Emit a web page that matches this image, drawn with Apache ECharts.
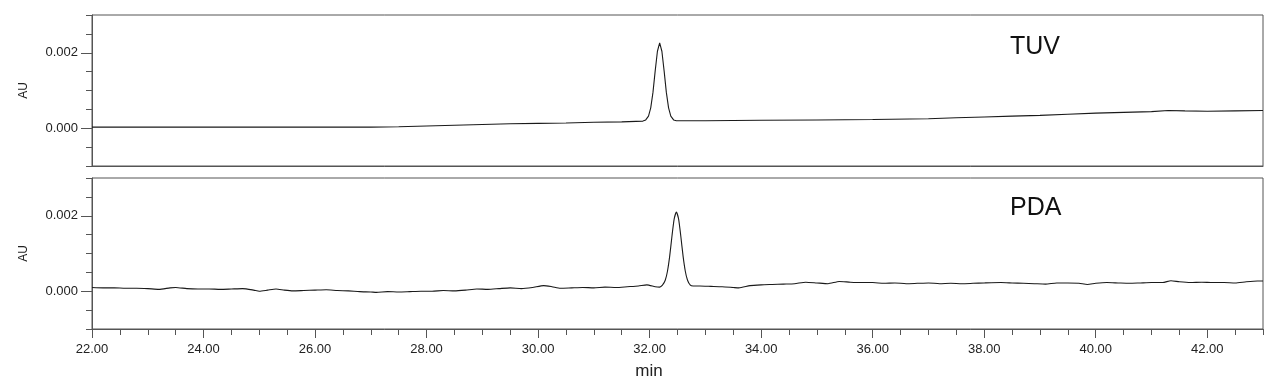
<!DOCTYPE html>
<html>
<head>
<meta charset="utf-8">
<script src="https://cdn.jsdelivr.net/npm/echarts@6.0.0/dist/echarts.min.js"></script>
<style>
html, body { margin: 0; padding: 0; background: #fff; }
#container { width: 1280px; height: 391px; }
</style>
</head>
<body>
<div id="container"></div>
<script>
// TUV trace (min, AU)
var tuvTime = [22.0, 23.0, 24.0, 25.0, 26.0, 27.0, 27.5, 28.0, 28.5, 29.0,
    29.5, 30.0, 30.5, 31.0, 31.5, 31.88, 31.93, 31.98, 32.02, 32.06,
    32.10, 32.14, 32.18, 32.22, 32.26, 32.30, 32.34, 32.38, 32.43, 32.48,
    33.0, 34.0, 35.0, 36.0, 37.0, 37.5, 38.0, 38.5, 39.0, 39.5,
    40.0, 40.5, 41.0, 41.3, 41.6, 42.0, 42.5, 43.0];
var tuvAU = [0.00003, 0.00003, 0.00003, 0.00003, 0.00003, 0.00003, 0.00004, 0.00006, 0.00008, 0.00010,
    0.00012, 0.00013, 0.00014, 0.00016, 0.00017, 0.00019, 0.00022, 0.00032, 0.00054, 0.00095,
    0.00152, 0.00204, 0.00226, 0.00204, 0.00152, 0.00095, 0.00054, 0.00032, 0.00022, 0.00020,
    0.00020, 0.00021, 0.00022, 0.00023, 0.00025, 0.00028, 0.00030, 0.00032, 0.00034, 0.00037,
    0.00040, 0.00042, 0.00044, 0.00047, 0.00046, 0.00045, 0.00046, 0.00047];

// PDA trace (min, AU)
var pdaTime = [22.0, 22.2, 22.4, 22.6, 22.8, 23.0, 23.2, 23.4, 23.5, 23.7,
    23.9, 24.1, 24.3, 24.5, 24.7, 24.9, 25.0, 25.15, 25.3, 25.45,
    25.6, 25.8, 26.0, 26.2, 26.4, 26.6, 26.8, 27.0, 27.1, 27.3,
    27.5, 27.7, 27.9, 28.1, 28.3, 28.5, 28.7, 28.9, 29.1, 29.3,
    29.5, 29.7, 29.9, 30.1, 30.25, 30.4, 30.6, 30.8, 31.0, 31.2,
    31.4, 31.6, 31.8, 31.95, 32.1, 32.18, 32.23, 32.28, 32.32, 32.36,
    32.40, 32.44, 32.48, 32.52, 32.56, 32.60, 32.64, 32.68, 32.73, 32.78,
    32.9, 33.1, 33.3, 33.5, 33.6, 33.8, 34.0, 34.2, 34.4, 34.6,
    34.8, 35.0, 35.2, 35.4, 35.6, 35.8, 36.0, 36.2, 36.4, 36.6,
    36.8, 37.0, 37.2, 37.4, 37.6, 37.8, 38.0, 38.3, 38.5, 38.7,
    38.9, 39.1, 39.3, 39.5, 39.7, 39.85, 40.0, 40.2, 40.4, 40.6,
    40.8, 41.0, 41.2, 41.35, 41.5, 41.7, 41.9, 42.1, 42.3, 42.5,
    42.7, 42.9, 43.0];
var pdaAU = [0.00010, 0.00009, 0.00009, 0.00008, 0.00008, 0.00007, 0.00005, 0.00009, 0.00010, 0.00007,
    0.00006, 0.00006, 0.00005, 0.00006, 0.00007, 0.00003, 0.00000, 0.00003, 0.00006, 0.00003,
    0.00001, 0.00002, 0.00003, 0.00004, 0.00002, 0.00001, -0.00001, -0.00002, -0.00003, -0.00001,
    -0.00002, -0.00001, 0.00000, 0.00000, 0.00002, 0.00001, 0.00003, 0.00006, 0.00005, 0.00007,
    0.00009, 0.00007, 0.00010, 0.00015, 0.00012, 0.00008, 0.00009, 0.00010, 0.00009, 0.00011,
    0.00010, 0.00012, 0.00014, 0.00017, 0.00012, 0.00011, 0.00016, 0.00029, 0.00053, 0.00093,
    0.00145, 0.00191, 0.00210, 0.00191, 0.00145, 0.00093, 0.00053, 0.00029, 0.00016, 0.00014,
    0.00014, 0.00013, 0.00012, 0.00010, 0.00009, 0.00015, 0.00017, 0.00018, 0.00019, 0.00020,
    0.00024, 0.00022, 0.00020, 0.00026, 0.00024, 0.00023, 0.00023, 0.00021, 0.00022, 0.00020,
    0.00021, 0.00022, 0.00020, 0.00021, 0.00020, 0.00021, 0.00022, 0.00023, 0.00022, 0.00021,
    0.00020, 0.00019, 0.00022, 0.00022, 0.00021, 0.00018, 0.00021, 0.00023, 0.00022, 0.00021,
    0.00022, 0.00023, 0.00023, 0.00028, 0.00025, 0.00023, 0.00024, 0.00023, 0.00023, 0.00022,
    0.00025, 0.00027, 0.00027];

// ticks
var xLabelTicks = [22, 24, 26, 28, 30, 32, 34, 36, 38, 40, 42];
var yLabelTicks = [0, 0.002];
var panelNames = ['TUV', 'PDA'];

var axisColor = '#555';
var textColor = '#222';
var font = 'Arial, "Liberation Sans", sans-serif';

var dom = document.getElementById('container');
var myChart = echarts.init(dom);

function pairs(ts, vs) {
    return ts.map(function (t, i) { return [t, vs[i]]; });
}

function yAxesFor(g) {
    return [
        {
            gridIndex: g, type: 'value', position: 'left',
            min: -0.001, max: 0.003, interval: 0.0005,
            name: 'AU', nameLocation: 'middle', nameGap: 62, nameRotate: 90,
            nameTextStyle: { color: textColor, fontSize: 12, fontFamily: font },
            axisLine: { show: true, onZero: false, lineStyle: { color: axisColor } },
            axisTick: { show: true, length: 6, lineStyle: { color: axisColor } },
            axisLabel: { show: false },
            splitLine: { show: false }
        },
        {
            gridIndex: g, type: 'value', position: 'left',
            min: -0.001, max: 0.003,
            axisLine: { show: false, onZero: false },
            axisTick: { show: true, length: 11, customValues: yLabelTicks, lineStyle: { color: axisColor } },
            axisLabel: {
                customValues: yLabelTicks, margin: 14, color: textColor, fontSize: 13, fontFamily: font,
                formatter: function (v) { return v.toFixed(3); }
            },
            splitLine: { show: false }
        }
    ];
}

option = {
    animation: false,
    backgroundColor: '#fff',
    grid: [
        { left: 92, right: 17, top: 15, height: 151, show: true, borderColor: axisColor, borderWidth: 1 },
        { left: 92, right: 17, top: 178, height: 151, show: true, borderColor: axisColor, borderWidth: 1 }
    ],
    xAxis: [
        {
            gridIndex: 0, type: 'value', position: 'bottom', min: 22, max: 43,
            axisLine: { show: true, onZero: false, lineStyle: { color: axisColor } },
            axisTick: { show: false }, axisLabel: { show: false }, splitLine: { show: false }
        },
        {
            gridIndex: 1, type: 'value', position: 'bottom', min: 22, max: 43, interval: 0.5,
            name: 'min', nameLocation: 'middle', nameGap: 34,
            nameTextStyle: { color: textColor, fontSize: 17, fontFamily: font, padding: [0, 57, 0, 0] },
            axisLine: { show: true, onZero: false, lineStyle: { color: axisColor } },
            axisTick: { show: true, length: 6, lineStyle: { color: axisColor } },
            axisLabel: { show: false }, splitLine: { show: false }
        },
        {
            gridIndex: 1, type: 'value', position: 'bottom', min: 22, max: 43,
            axisLine: { show: false, onZero: false },
            axisTick: { show: true, length: 9, customValues: xLabelTicks, lineStyle: { color: axisColor } },
            axisLabel: {
                customValues: xLabelTicks, margin: 14, color: textColor, fontSize: 13, fontFamily: font,
                formatter: function (v) { return v.toFixed(2); }
            },
            splitLine: { show: false }
        }
    ],
    yAxis: yAxesFor(0).concat(yAxesFor(1)),
    graphic: [
        { type: 'text', left: 1010, top: 35, style: { text: panelNames[0], fontSize: 25, fontFamily: font, fill: '#111' } },
        { type: 'text', left: 1010, top: 196, style: { text: panelNames[1], fontSize: 25, fontFamily: font, fill: '#111' } }
    ],
    series: [
        {
            name: panelNames[0], type: 'line', xAxisIndex: 0, yAxisIndex: 0,
            data: pairs(tuvTime, tuvAU), showSymbol: false, symbol: 'none',
            lineStyle: { color: '#1a1a1a', width: 1.1 }
        },
        {
            name: panelNames[1], type: 'line', xAxisIndex: 1, yAxisIndex: 2,
            data: pairs(pdaTime, pdaAU), showSymbol: false, symbol: 'none', smooth: 0.2,
            lineStyle: { color: '#1a1a1a', width: 1.1 }
        }
    ]
};
myChart.setOption(option, true);
</script>
</body>
</html>
